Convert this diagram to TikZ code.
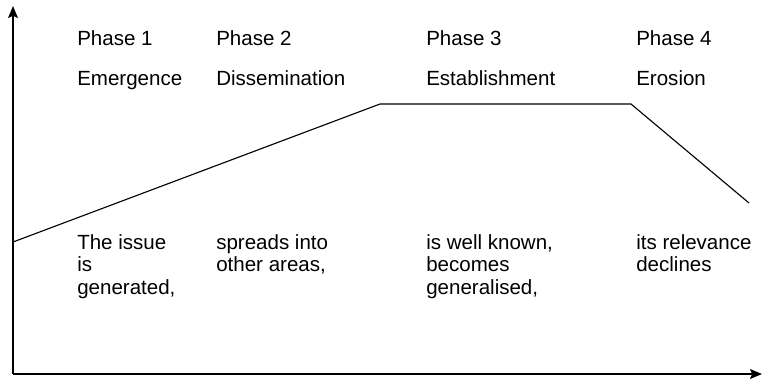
\documentclass[tikz,border=0pt]{standalone}
\usepackage{fontspec}
\setmainfont{Liberation Sans}
\usepackage{tikz}
\usetikzlibrary{arrows.meta, positioning}

\tikzset{
    axis/.style={line width=1.1pt, -{Stealth[length=8.5pt, width=7pt, inset=1.5pt]}},
    trend/.style={line width=0.8pt},
    phasetext/.style={anchor=base west, inner sep=0pt, font=\fontsize{14.6}{17.5}\selectfont},
    desctext/.style={anchor=north west, inner sep=0pt, align=left, font=\fontsize{14.6}{16}\selectfont}
}

\begin{document}
\begin{tikzpicture}[x=0.025cm, y=-0.025cm]
    \useasboundingbox (0,0) rectangle (762,383);

    % Axes
    \coordinate (origin) at (13,374);
    \coordinate (ytop) at (13,6);
    \coordinate (xend) at (762,374);
    \draw[axis] (origin) -- (ytop);
    \draw[axis] (origin) -- (xend);

    % Life cycle of the issue
    \coordinate (start) at (13,242);
    \coordinate (rise) at (380,104);
    \coordinate (peak) at (631,104);
    \coordinate (fall) at (749,203);
    \draw[trend] (start) -- (rise) -- (peak) -- (fall);

    % Phase headings
    \node[phasetext] (p1) at (77,45) {Phase 1};
    \node[phasetext] (p2) at (216,45) {Phase 2};
    \node[phasetext] (p3) at (426,45) {Phase 3};
    \node[phasetext] (p4) at (636,45) {Phase 4};

    \node[phasetext] (n1) at (77,85) {Emergence};
    \node[phasetext] (n2) at (216,85) {Dissemination};
    \node[phasetext] (n3) at (426,85) {Establishment};
    \node[phasetext] (n4) at (636,85) {Erosion};

    % Descriptions
    \node[desctext] (d1) at (77,234) {The issue\\is\\generated,};
    \node[desctext] (d2) at (216,234) {spreads into\\other areas,};
    \node[desctext] (d3) at (426,234) {is well known,\\becomes\\generalised,};
    \node[desctext] (d4) at (636,234) {its relevance\\declines};
\end{tikzpicture}
\end{document}
